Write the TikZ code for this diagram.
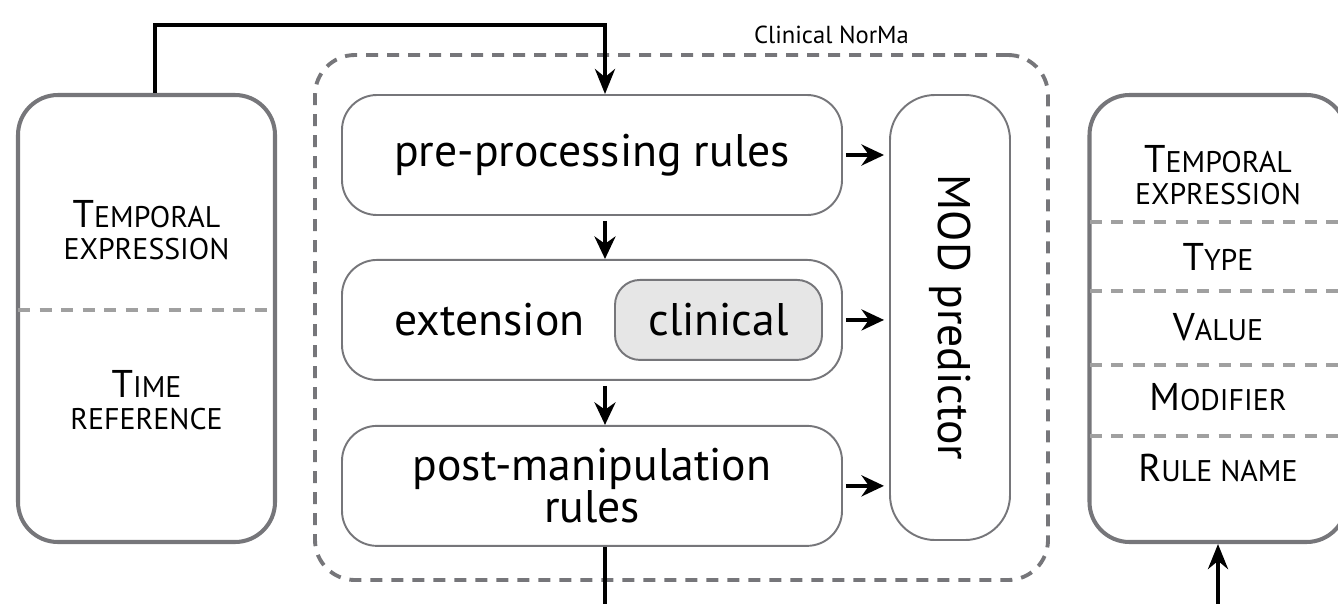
\documentclass[tikz,border=0pt]{standalone}
\usepackage{fontspec}
\setmainfont{PT Sans}
\usetikzlibrary{positioning, arrows.meta, calc}
\definecolor{frameGray}{RGB}{118,118,122}
\definecolor{sepGray}{RGB}{160,160,160}
\definecolor{clinicalFill}{RGB}{230,230,230}
\newcommand{\labelFont}{\fontsize{26}{24}\selectfont}
\newcommand{\capsBig}{\fontsize{22}{18}\selectfont}
\newcommand{\capsSmall}{\fontsize{17}{18}\selectfont}
\newcommand{\fakeSC}[2]{{\capsBig #1}{\capsSmall #2}}
\newcommand{\flowShift}{0.26cm}
\tikzstyle{ioBox}=[draw=frameGray, line width=2.3pt, rounded corners=0.8cm, minimum width=5.14cm, minimum height=8.94cm]
\tikzstyle{ruleBox}=[draw=frameGray, line width=1.1pt, rounded corners=0.7cm, minimum width=10cm, minimum height=2.4cm, font=\labelFont, align=center]
\tikzstyle{normaFrame}=[draw=frameGray, line width=2.2pt, dash pattern=on 0.24cm off 0.18cm, rounded corners=0.8cm, minimum width=14.66cm, minimum height=10.5cm]
\tikzstyle{separator}=[sepGray, line width=2.3pt, dash pattern=on 0.24cm off 0.19cm]
\tikzstyle{fieldText}=[align=center, inner sep=0pt, font=\capsSmall]
\tikzstyle{flowArrow}=[-{Stealth[length=0.5cm, width=0.4cm]}, line width=2.8pt]
\tikzstyle{stepArrow}=[-{Stealth[length=0.45cm, width=0.42cm]}, line width=2.2pt]

\begin{document}
\begin{tikzpicture}
  \useasboundingbox (0,0) rectangle (26.76,-12.06);
  % input
  \node[ioBox] (inBox) at (2.93,-6.37) {};
  \draw[separator] ([xshift=1.2pt]inBox.west |- 0,-6.2) -- ([xshift=-1.2pt]inBox.east |- 0,-6.2);
  \node[fieldText] (inExpr) at (2.93,-4.6) {\fakeSC{T}{EMPORAL}\\EXPRESSION};
  \node[fieldText] (inTime) at (2.93,-8.0) {\fakeSC{T}{IME}\\REFERENCE};

  % Clinical NorMa
  \node[normaFrame] (norma) at (13.63,-6.35) {};
  \node[font=\fontsize{14}{14}\selectfont, anchor=south east] (normaName) at (18.3,-1.0) {Clinical NorMa};
  \node[ruleBox] (pre) at (11.84,-3.1) {pre-processing rules};
  \node[ruleBox, below=0.86cm of pre] (ext) {};
  \node[ruleBox, below=0.88cm of ext] (post) {post-manipulation\\rules};
  \node[draw=frameGray, line width=1.1pt, fill=clinicalFill, rounded corners=0.5cm,
        minimum width=4.14cm, minimum height=1.6cm, font=\labelFont,
        left=0.4cm of ext.east] (clinical) {clinical};
  \node[font=\labelFont, anchor=west] (extLabel) at ([xshift=0.95cm]ext.west) {extension};
  \node[draw=frameGray, line width=1.1pt, rounded corners=0.9cm,
        minimum width=2.4cm, minimum height=8.9cm] (mod) at (19,-6.35) {};
  \node[font=\labelFont, rotate=-90] (modLabel) at (mod.center) {MOD predictor};

  % output
  \node[ioBox] (outBox) at (24.36,-6.37) {};
  \foreach \y in {-4.44,-5.82,-7.3,-8.72}
    \draw[separator] ([xshift=1.2pt]outBox.west |- 0,\y) -- (outBox.east |- 0,\y);
  \node[fieldText] (outExpr) at (24.36,-3.5) {\fakeSC{T}{EMPORAL}\\EXPRESSION};
  \node[fieldText] (outType) at (24.36,-5.14) {\fakeSC{T}{YPE}};
  \node[fieldText] (outValue) at (24.36,-6.54) {\fakeSC{V}{ALUE}};
  \node[fieldText] (outMod) at (24.36,-7.94) {\fakeSC{M}{ODIFIER}};
  \node[fieldText] (outRule) at (24.36,-9.36) {\fakeSC{R}{ULE} NAME};

  % connectors
  \draw[flowArrow] ([xshift=0.17cm]inBox.north) -- ++(0,1.36) -| ([xshift=\flowShift]pre.north);
  \draw[stepArrow, shorten <=0.1cm] ([xshift=\flowShift]pre.south) -- ([xshift=\flowShift]ext.north);
  \draw[stepArrow, shorten <=0.1cm] ([xshift=\flowShift]ext.south) -- ([xshift=\flowShift]post.north);
  \foreach \src in {pre, ext, post}
    \draw[stepArrow, shorten <=0.06cm, shorten >=0.1cm] (\src.east) -- (\src.east -| mod.west);
  \coordinate (postOut) at ([xshift=\flowShift]post.south |- 0,-12.4);
  \draw[line width=2.8pt] ([xshift=\flowShift]post.south) -- (postOut);
  \coordinate (outIn) at (outBox.south |- 0,-12.4);
  \draw[flowArrow] (outIn) -- (outBox.south);
\end{tikzpicture}
\end{document}
